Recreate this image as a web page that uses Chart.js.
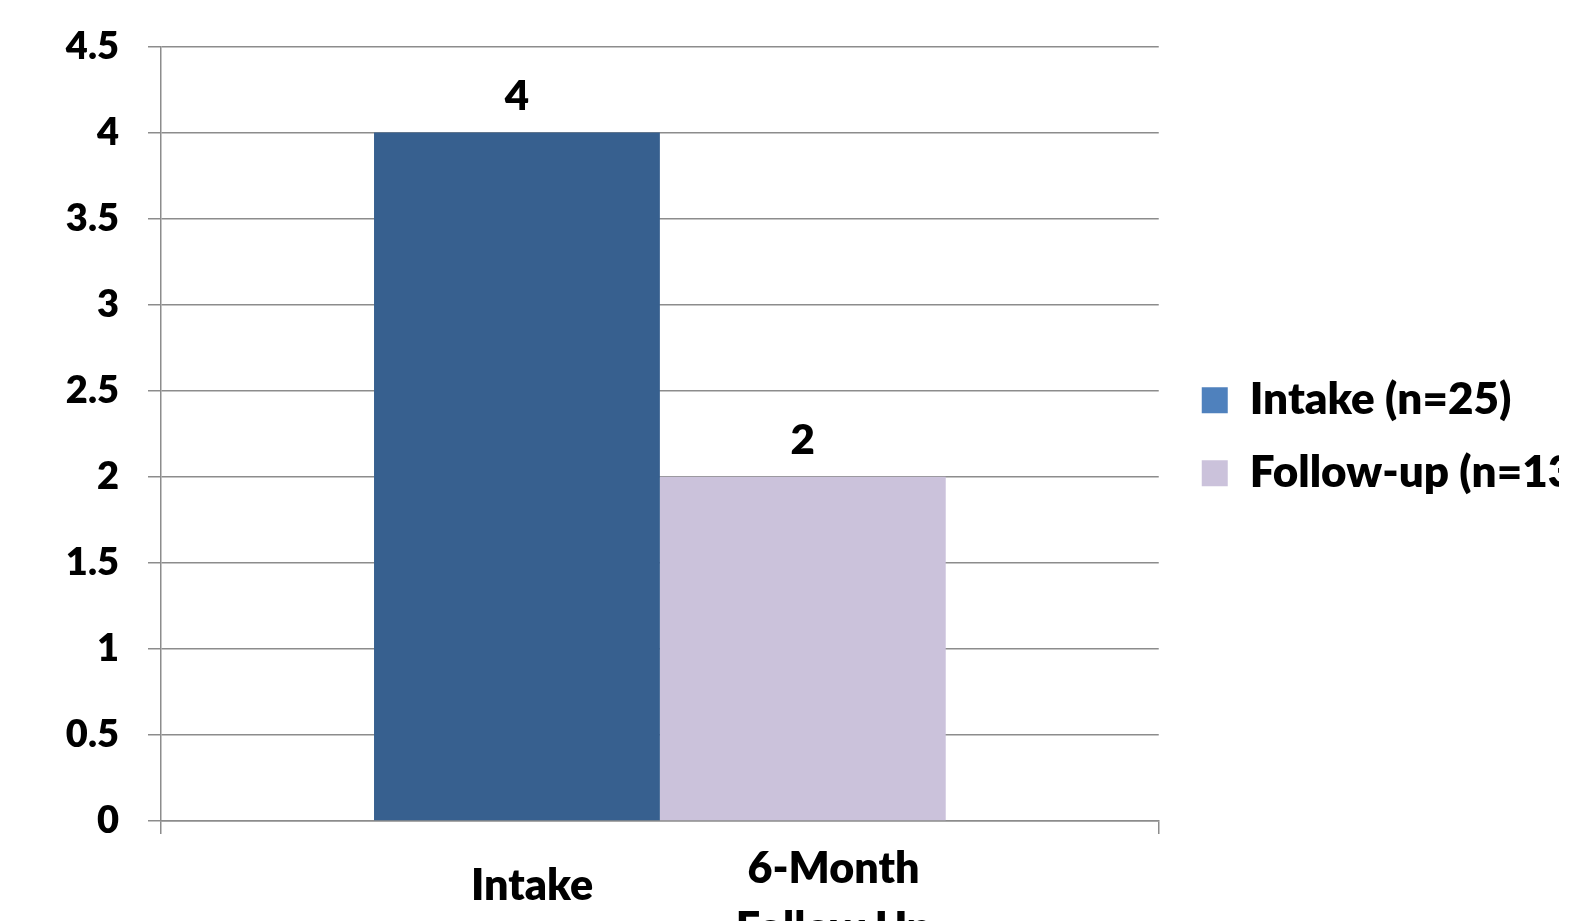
<!DOCTYPE html>
<html>
<head>
<meta charset="utf-8">
<script src="https://cdn.jsdelivr.net/npm/chart.js@4.4.1/dist/chart.umd.min.js"></script>
<style>
  html, body { margin: 0; padding: 0; background: #fff; overflow: hidden; }
  #wrap { width: 1576px; height: 921px; }
</style>
</head>
<body>
<div id="wrap"><canvas id="chart" width="1576" height="921"></canvas></div>
<script>
// ── Data ───────────────────────────────────────────────────────────
const seriesNames = ['Intake (n=25)', 'Follow-up (n=13)'];
const seriesValues = [4, 2];
const barColors = ['#37608f', '#cbc2db'];
const legendColors = ['#4f81bd', '#cbc2db'];
const categoryLabels = [['Intake'], ['6-Month', 'Follow Up']];
const yTicks = [0, 0.5, 1, 1.5, 2, 2.5, 3, 3.5, 4, 4.5];

const FONT = 'Lato, "Open Sans", sans-serif';
const WEIGHT = 800;
const GRID = '#8c8c8c';

// value labels above each bar
const valueLabels = {
  id: 'valueLabels',
  afterDatasetsDraw(chart) {
    const { ctx } = chart;
    ctx.save();
    ctx.font = `${WEIGHT} 42px ${FONT}`;
    ctx.fillStyle = '#000';
    ctx.textAlign = 'center';
    ctx.textBaseline = 'alphabetic';
    chart.data.datasets.forEach((ds, i) => {
      chart.getDatasetMeta(i).data.forEach((bar, j) => {
        ctx.fillText(String(ds.data[j]), bar.x, bar.y - 23);
      });
    });
    ctx.restore();
  }
};

// category text under the axis, placed along the plot width
const categoryText = {
  id: 'categoryText',
  afterDraw(chart, args, opts) {
    const { ctx, chartArea } = chart;
    ctx.save();
    ctx.font = `${WEIGHT} 43px ${FONT}`;
    ctx.fillStyle = '#000';
    ctx.textAlign = 'center';
    ctx.textBaseline = 'alphabetic';
    categoryLabels.forEach((lines, i) => {
      const x = chartArea.left + opts.at[i] * chartArea.width;
      lines.forEach((line, k) => {
        ctx.fillText(line, x, chartArea.bottom + opts.baseline[i] + k * opts.lineHeight);
      });
    });
    ctx.restore();
  }
};

// nudge the legend a little further from the plot
const legendShift = {
  id: 'legendShift',
  afterInit(chart, args, opts) {
    const lg = chart.legend;
    const draw = lg.draw.bind(lg);
    lg.draw = function () {
      chart.ctx.save();
      chart.ctx.translate(opts.dx, opts.dy);
      draw();
      chart.ctx.restore();
    };
  }
};

new Chart(document.getElementById('chart'), {
  type: 'bar',
  data: {
    labels: [''],
    datasets: seriesNames.map((name, i) => ({
      label: name,
      data: [seriesValues[i]],
      backgroundColor: barColors[i],
      borderWidth: 0,
      categoryPercentage: 0.573,
      barPercentage: 1,
    }))
  },
  options: {
    responsive: false,
    animation: false,
    events: [],
    layout: { padding: { top: 46.5, right: 31, bottom: 0, left: 0 } },
    plugins: {
      tooltip: { enabled: false },
      legend: {
        position: 'right',
        fullSize: false,
        labels: {
          color: '#000',
          font: { family: FONT, size: 44, weight: WEIGHT },
          boxWidth: 26,
          boxHeight: 26,
          padding: 29,
          generateLabels: (chart) => seriesNames.map((name, i) => ({
            text: name,
            fillStyle: legendColors[i],
            strokeStyle: legendColors[i],
            lineWidth: 0,
            datasetIndex: i,
          }))
        }
      },
      legendShift: { dx: 14, dy: 3 },
      categoryText: { at: [0.372, 0.674], baseline: [79, 62], lineHeight: 60 }
    },
    scales: {
      x: {
        offset: true,
        ticks: { display: false },
        grid: { drawOnChartArea: false, drawTicks: true, tickLength: 13, color: GRID, lineWidth: 1.5 },
        border: { display: true, color: GRID, width: 1.5 },
        afterFit: (s) => { s.height = 100; }
      },
      y: {
        min: 0,
        max: 4.5,
        afterBuildTicks: (s) => { s.ticks = yTicks.map(v => ({ value: v })); },
        ticks: {
          color: '#000',
          font: { family: FONT, size: 38, weight: WEIGHT },
          padding: 29,
          callback: (v) => String(v)
        },
        grid: { color: GRID, lineWidth: 1.5, tickLength: 13 },
        border: { display: true, color: GRID, width: 1.5 },
        afterFit: (s) => { s.width = 161; s.paddingTop = 0; s.paddingBottom = 0; }
      }
    }
  },
  plugins: [valueLabels, categoryText, legendShift]
});
</script>
</body>
</html>
